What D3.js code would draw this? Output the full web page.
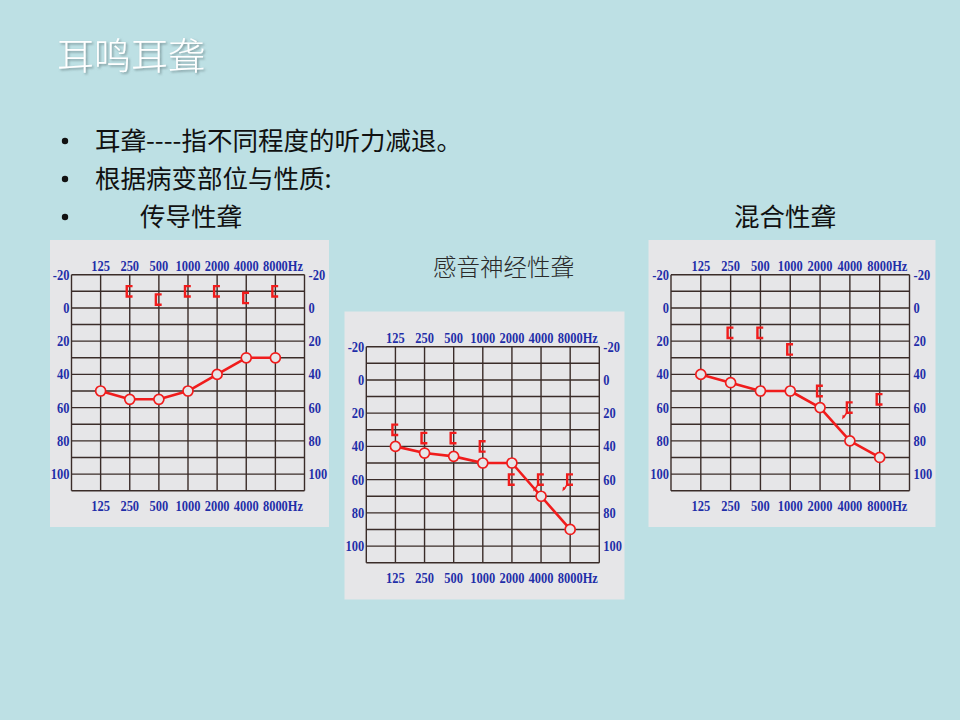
<!DOCTYPE html>
<html><head><meta charset="utf-8">
<script src="https://cdn.jsdelivr.net/npm/d3@7"></script>
<style>
html,body{margin:0;padding:0;background:#bde0e4;}
svg{display:block;}
</style></head>
<body>
<script>
// ---- data ----
const freqs = ["125","250","500","1000","2000","4000","8000"];
const dbTicks = [-20,0,20,40,60,80,100];
const dbGrid = d3.range(-20,111,10);

const conductiveAir  = [50,55,55,50,40,30,30];
const conductiveBone = [null,-10,-5,-10,-10,-6,-10];
const conductiveNoResp = [false,false,false,false,false,false,false];

const sensorineuralAir  = [40,44,46,50,50,70,90];
const sensorineuralBone = [30,35,35,40,60,60,60];
const sensorineuralNoResp = [false,false,false,false,false,true,true];

const mixedAir  = [40,45,50,50,60,80,90];
const mixedBone = [null,15,15,25,50,60,55];
const mixedNoResp = [false,false,false,false,false,true,false];

const titleText = "耳鸣耳聋";
const bullets = ["耳聋----指不同程度的听力减退。","根据病变部位与性质:"];
const typeLabels = ["传导性聋","感音神经性聋","混合性聋"];

// ---- drawing ----
const W=960,H=720;
const svg=d3.select("body").append("svg").attr("width",W).attr("height",H);
svg.append("rect").attr("width",W).attr("height",H).attr("fill","#bde0e4");

const defs=svg.append("defs");
const f=defs.append("filter").attr("id","sh").attr("x","-10%").attr("y","-10%").attr("width","130%").attr("height","140%");
f.append("feDropShadow").attr("dx",1.5).attr("dy",1.5).attr("stdDeviation",1).attr("flood-color","#6b8589").attr("flood-opacity",0.8);

const cjk='"Noto Sans CJK SC","Noto Sans",sans-serif';
svg.append("text").attr("x",57).attr("y",70).text(titleText)
  .attr("font-family",cjk).attr("font-weight",300).attr("font-size",37)
  .attr("fill","#ffffff").attr("filter","url(#sh)");

const bulletY=[150,188,226];
bulletY.forEach(y=>{
  svg.append("circle").attr("cx",65).attr("cy",y-9).attr("r",3.2).attr("fill","#111");
});
bullets.forEach((t,i)=>{
  svg.append("text").attr("x",95).attr("y",bulletY[i]).text(t)
    .attr("font-family",cjk).attr("font-size",25.5).attr("fill","#111");
});
svg.append("text").attr("x",140).attr("y",226).text(typeLabels[0])
  .attr("font-family",cjk).attr("font-size",25.5).attr("fill","#111");
svg.append("text").attr("x",734).attr("y",226).text(typeLabels[2])
  .attr("font-family",cjk).attr("font-size",25.5).attr("fill","#111");
svg.append("text").attr("x",433).attr("y",276).text(typeLabels[1])
  .attr("font-family",cjk).attr("font-weight",300).attr("font-size",23.5).attr("fill","#2a2a2a");

const charts=[
  {px:50,py:240,pw:279,ph:287,gx:71.5,gy:274.7,gw:233,gh:216,air:conductiveAir,bone:conductiveBone,nr:conductiveNoResp},
  {px:344.5,py:311.5,pw:280,ph:288,gx:366.3,gy:346.7,gw:233,gh:216,air:sensorineuralAir,bone:sensorineuralBone,nr:sensorineuralNoResp},
  {px:648.5,py:240,pw:287,ph:287,gx:671,gy:274.7,gw:238.5,gh:216,air:mixedAir,bone:mixedBone,nr:mixedNoResp}
];

const gridCol="#3a2c29", tickCol="#1f2ea8", red="#f01c1c", panelCol="#e6e6e8";
const serif='"Liberation Serif","Times New Roman",serif';
const SX=0.86;

charts.forEach(c=>{
  const g=svg.append("g");
  g.append("rect").attr("x",c.px).attr("y",c.py).attr("width",c.pw).attr("height",c.ph).attr("fill",panelCol);
  const x=d3.scalePoint().domain(freqs).range([c.gx,c.gx+c.gw]).padding(1);
  const y=d3.scaleLinear().domain([-20,110]).range([c.gy,c.gy+c.gh]);
  // horizontal grid
  g.selectAll(".h").data(dbGrid).join("line")
    .attr("x1",c.gx).attr("x2",c.gx+c.gw).attr("y1",d=>y(d)).attr("y2",d=>y(d))
    .attr("stroke",gridCol).attr("stroke-width",1.4);
  // vertical grid
  const vx=[c.gx].concat(freqs.map(d=>x(d))).concat([c.gx+c.gw]);
  g.selectAll(".v").data(vx).join("line")
    .attr("x1",d=>d).attr("x2",d=>d).attr("y1",c.gy).attr("y2",c.gy+c.gh)
    .attr("stroke",gridCol).attr("stroke-width",1.4);
  // axes labels (condensed bold serif)
  const lab=(sel)=>sel.attr("font-family",serif).attr("font-weight","bold").attr("font-size",14.5)
      .attr("fill",tickCol);
  const place=(sel,fx,fy)=>sel.attr("transform",(d,i)=>`translate(${fx(d,i)},${fy(d,i)}) scale(${SX},1)`);
  g.selectAll(".yl").data(dbTicks).join("text").call(lab)
    .call(place,()=>c.gx-2,d=>y(d)).attr("dy","0.35em").attr("text-anchor","end").text(d=>d);
  g.selectAll(".yr").data(dbTicks).join("text").call(lab)
    .call(place,()=>c.gx+c.gw+4,d=>y(d)).attr("dy","0.35em").attr("text-anchor","start").text(d=>d);
  [c.gy-4, c.gy+c.gh+20].forEach(by=>{
    let lastW=0;
    g.selectAll(null).data(freqs).join("text").call(lab)
      .call(place,d=>x(d),()=>by).attr("text-anchor","middle").text(d=>d)
      .each(function(d,i){ if(i===freqs.length-1) lastW=this.getComputedTextLength()*SX; });
    g.append("text").call(lab).attr("transform",`translate(${x(freqs[freqs.length-1])+lastW/2},${by}) scale(${SX},1)`).text("Hz");
  });
  // air conduction line
  const pts=freqs.map((f,i)=>[x(f),y(c.air[i])]);
  g.append("path").attr("d",d3.line()(pts)).attr("fill","none").attr("stroke",red).attr("stroke-width",2.6)
    .attr("stroke-linejoin","round");
  g.selectAll(".c").data(pts).join("circle").attr("cx",d=>d[0]).attr("cy",d=>d[1]).attr("r",5)
    .attr("fill",panelCol).attr("stroke",red).attr("stroke-width",1.7);
  // bone conduction brackets
  freqs.forEach((f,i)=>{
    const v=c.bone[i]; if(v==null) return;
    const bx=x(f), byy=y(v);
    g.append("path").attr("d",`M${bx+2.8},${byy-5.2}H${bx-3}V${byy+5.2}H${bx+2.8}`)
      .attr("fill","none").attr("stroke",red).attr("stroke-width",2.4);
    if(c.nr[i]){
      g.append("path").attr("d",`M${bx-3},${byy+5}L${bx-6.5},${byy+10}`)
        .attr("stroke",red).attr("stroke-width",1.6).attr("fill","none");
      g.append("path").attr("d",`M${bx-7.8},${byy+12}L${bx-7.2},${byy+7.2}L${bx-4.5},${byy+9}Z`)
        .attr("fill",red);
    }
  });
});
</script>
</body></html>
